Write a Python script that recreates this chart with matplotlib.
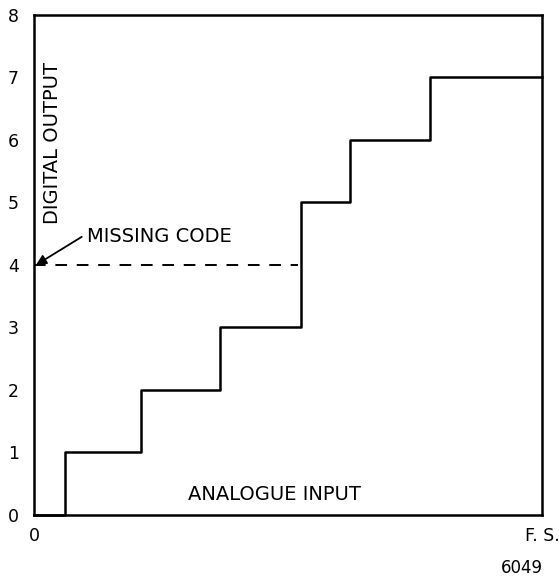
import matplotlib
matplotlib.use("Agg")
import matplotlib.pyplot as plt

# Data (x as fraction of full scale)
transition_x = [0.0, 0.061, 0.211, 0.366, 0.526, 0.622, 0.780, 1.0]
output_codes = [0, 1, 2, 3, 5, 6, 7]
missing_code = 4
y_ticks = [0, 1, 2, 3, 4, 5, 6, 7, 8]
x_tick_labels = ["0", "F. S."]

plt.rcParams['font.family'] = ['DejaVu Sans']

fig = plt.figure(figsize=(5.59, 5.84), dpi=100)
ax = fig.add_axes([0.0608, 0.1182, 0.9088, 0.8562])
ax.set_xlim(0, 1)
ax.set_ylim(0, 8)

for s in ax.spines.values():
    s.set_linewidth(1.8)
    s.set_color('black')

ax.step(transition_x, output_codes + [output_codes[-1]], where='post',
        color='black', lw=1.8, clip_on=False)

# dashed missing code line up to the jump
jump_idx = next(i for i in range(1, len(output_codes))
                if output_codes[i] - output_codes[i - 1] > 1)
ax.plot([0, transition_x[jump_idx] - 0.006], [missing_code, missing_code],
        color='black', lw=1.4, dashes=(6, 5), clip_on=False)

ax.text(0.104, 4.45, "MISSING CODE", fontsize=14, va='center', ha='left')
ax.annotate("", xy=(0.004, missing_code), xytext=(0.094, 4.45),
            arrowprops=dict(arrowstyle='-|>', color='black', lw=1.3,
                            mutation_scale=15, shrinkA=0, shrinkB=0))

ax.set_yticks(y_ticks)
ax.set_yticklabels([str(v) for v in y_ticks], fontsize=12.5)
ax.set_xticks([0, 1])
ax.set_xticklabels(x_tick_labels, fontsize=12.5)
ax.tick_params(axis='y', length=0, pad=11)
ax.tick_params(axis='x', length=0, pad=9)

ax.text(0.474, 0.32, "ANALOGUE INPUT", fontsize=14, ha='center', va='center')
ax.text(0.037, 5.95, "DIGITAL OUTPUT", fontsize=14, rotation=90,
        ha='center', va='center')

fig.text(522 / 559, 1 - 568 / 584, "6049", fontsize=12, ha='center', va='center')

fig.savefig("out.png", dpi=100)
